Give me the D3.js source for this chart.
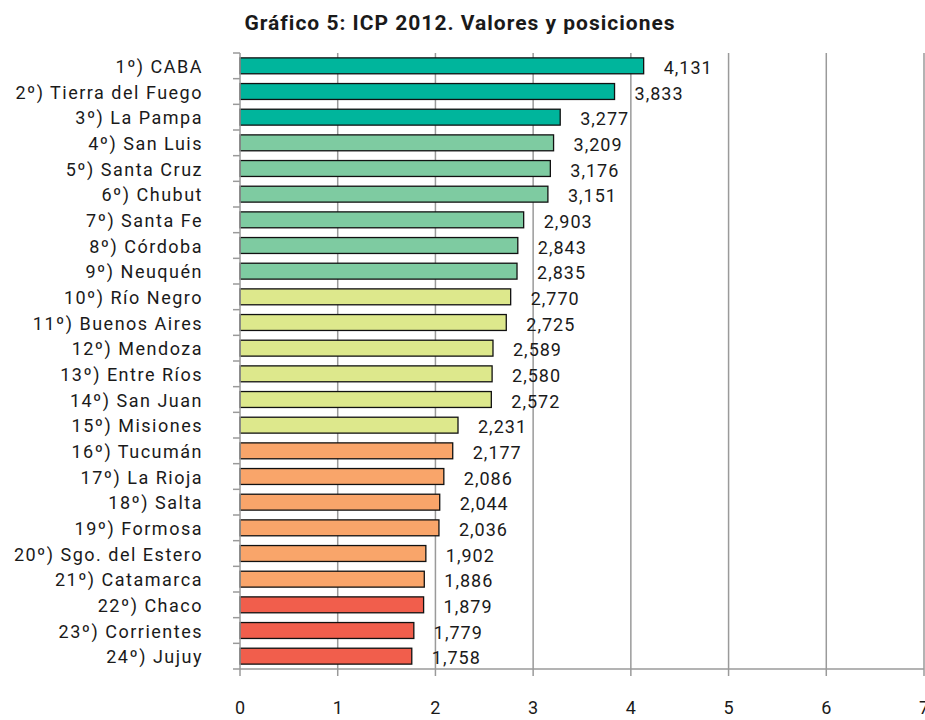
<!DOCTYPE html>
<html>
<head>
<meta charset="utf-8">
<script src="https://cdn.jsdelivr.net/npm/d3@7"></script>
<style>
  body { margin: 0; background: #fff; }
  text { font-family: Roboto, "DejaVu Sans", sans-serif; fill: #1a1a1a; }
</style>
</head>
<body>
<svg class="chart"></svg>
<script>
// Datos
var provincias = ["1º) CABA", "2º) Tierra del Fuego", "3º) La Pampa", "4º) San Luis", "5º) Santa Cruz",
  "6º) Chubut", "7º) Santa Fe", "8º) Córdoba", "9º) Neuquén", "10º) Río Negro", "11º) Buenos Aires",
  "12º) Mendoza", "13º) Entre Ríos", "14º) San Juan", "15º) Misiones", "16º) Tucumán", "17º) La Rioja",
  "18º) Salta", "19º) Formosa", "20º) Sgo. del Estero", "21º) Catamarca", "22º) Chaco",
  "23º) Corrientes", "24º) Jujuy"];
var valores = [4.131, 3.833, 3.277, 3.209, 3.176, 3.151, 2.903, 2.843, 2.835, 2.770, 2.725, 2.589,
  2.580, 2.572, 2.231, 2.177, 2.086, 2.044, 2.036, 1.902, 1.886, 1.879, 1.779, 1.758];
var grupos = [0, 0, 0, 1, 1, 1, 1, 1, 1, 2, 2, 2, 2, 2, 2, 3, 3, 3, 3, 3, 3, 4, 4, 4];
var colores = ["#00b59c", "#7ecba1", "#dde88c", "#f9a56a", "#f15e4c"];
var ticksX = [0, 1, 2, 3, 4, 5, 6, 7];

var data = provincias.map(function(p, i) {
  return { name: p, value: valores[i], grupo: grupos[i] };
});

// Tamaño y márgenes
var W = 925, H = 720;
var margin = { top: 53, right: 1, bottom: 51, left: 240 },
    width = W - margin.left - margin.right,
    height = H - margin.top - margin.bottom;

var root = d3.select(".chart").attr("width", W).attr("height", H);

root.append("text")
    .attr("x", 460).attr("y", 30)
    .attr("text-anchor", "middle")
    .style("font-size", "21px").style("font-weight", "bold").style("letter-spacing", "1px")
    .text("Gráfico 5: ICP 2012. Valores y posiciones");

var svg = root.append("g")
    .attr("transform", "translate(" + margin.left + "," + margin.top + ")");

var x = d3.scaleLinear().domain([0, 7]).range([0, 684]);
var y = d3.scaleBand().domain(provincias).range([0, height]).paddingInner(0.38).paddingOuter(0.19);
var band = d3.scaleBand().domain(provincias).range([0, height]);

// Líneas de cuadrícula verticales
svg.selectAll(".grid")
    .data(ticksX.slice(1))
  .enter().append("line")
    .attr("x1", function(d) { return x(d); })
    .attr("x2", function(d) { return x(d); })
    .attr("y1", 0).attr("y2", height)
    .attr("stroke", "#9a9a9a").attr("stroke-width", 1.5);

// Barras
svg.selectAll(".bar")
    .data(data)
  .enter().append("rect")
    .attr("x", 0)
    .attr("y", function(d) { return y(d.name); })
    .attr("width", function(d) { return x(d.value); })
    .attr("height", y.bandwidth())
    .attr("fill", function(d) { return colores[d.grupo]; })
    .attr("stroke", "#111").attr("stroke-width", 1.3);

// Etiquetas de valor
svg.selectAll(".val")
    .data(data)
  .enter().append("text")
    .attr("x", function(d) { return x(d.value) + 20; })
    .attr("y", function(d) { return band(d.name) + band.bandwidth() / 2 + 8; })
    .style("font-size", "18px").style("letter-spacing", "1px")
    .text(function(d) { return d3.format(".3f")(d.value).replace(".", ","); });

// Eje Y
var yAxis = svg.append("g").attr("class", "y-axis");
yAxis.append("line")
    .attr("x1", 0).attr("x2", 0).attr("y1", 0).attr("y2", height)
    .attr("stroke", "#9a9a9a").attr("stroke-width", 1.5);
yAxis.selectAll(".ytick")
    .data(provincias.concat(["_fin"]))
  .enter().append("line")
    .attr("x1", -7).attr("x2", 0)
    .attr("y1", function(d, i) { return i * band.step(); })
    .attr("y2", function(d, i) { return i * band.step(); })
    .attr("stroke", "#9a9a9a").attr("stroke-width", 1.5);
yAxis.selectAll(".ylab")
    .data(provincias)
  .enter().append("text")
    .attr("x", -37)
    .attr("y", function(d) { return band(d) + band.bandwidth() / 2 + 7; })
    .attr("text-anchor", "end")
    .style("font-size", "18px").style("letter-spacing", "1.5px")
    .text(function(d) { return d; });

// Eje X
var xAxis = svg.append("g").attr("class", "x-axis")
    .attr("transform", "translate(0," + height + ")");
xAxis.append("line")
    .attr("x1", 0).attr("x2", x(7)).attr("y1", 0).attr("y2", 0)
    .attr("stroke", "#9a9a9a").attr("stroke-width", 1.5);
xAxis.selectAll(".xtick")
    .data(ticksX)
  .enter().append("line")
    .attr("x1", function(d) { return x(d); })
    .attr("x2", function(d) { return x(d); })
    .attr("y1", 0).attr("y2", 7)
    .attr("stroke", "#9a9a9a").attr("stroke-width", 1.5);
xAxis.selectAll(".xlab")
    .data(ticksX)
  .enter().append("text")
    .attr("x", function(d) { return x(d); })
    .attr("y", 45)
    .attr("text-anchor", "middle")
    .style("font-size", "18px")
    .text(function(d) { return d; });
</script>
</body>
</html>
